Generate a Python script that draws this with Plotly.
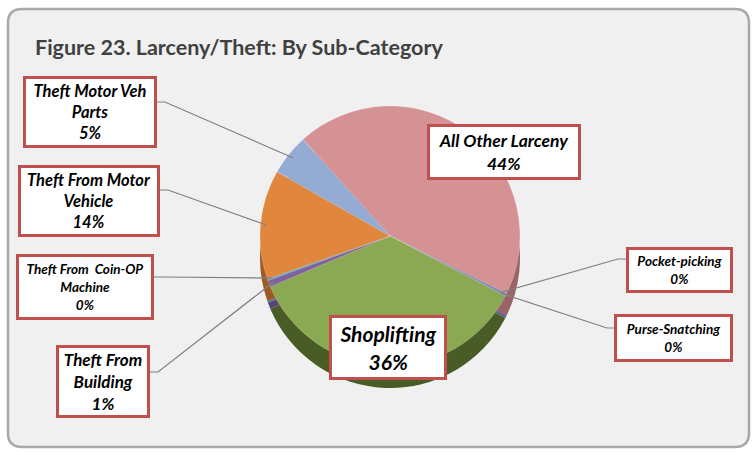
import math
import plotly.graph_objects as go

# ---- data ----
categories = ["All Other Larceny", "Pocket-picking", "Purse-Snatching", "Shoplifting",
              "Theft From Building", "Theft From Coin-OP Machine",
              "Theft From Motor Vehicle", "Theft Motor Veh Parts"]
shares = [44.0, 0.2, 0.1, 36.0, 0.8, 0.2, 13.6, 5.1]
label_text = ["All Other Larceny", "Pocket-picking", "Purse-Snatching", "Shoplifting",
              "Theft From<br>Building", "Theft From  Coin-OP<br>Machine",
              "Theft From Motor<br>Vehicle", "Theft Motor Veh<br>Parts"]
title_text = "Figure 23. Larceny/Theft: By Sub-Category"

top_colors = ["#D49294", "#4F81BD", "#8064A2", "#8BA852", "#7E62A0", "#4BACC6", "#E0863D", "#94ABD4"]
side_colors = ["#9A6466", "#3A5F8C", "#5A4575", "#4A5C26", "#5A4575", "#357C8E", "#9E5A24", "#687A9A"]

W, H = 754, 452
cx, cy, R = 390, 236, 130
depth = 22
rotation = -42

def dom(cxp, cyp):
    return dict(x=[(cxp - R) / W, (cxp + R) / W], y=[1 - (cyp + R) / H, 1 - (cyp - R) / H])

fig = go.Figure()
fig.add_trace(go.Pie(labels=categories, values=shares, sort=False, direction="clockwise",
                     rotation=rotation, domain=dom(cx, cy + depth), textinfo="none",
                     hoverinfo="skip", showlegend=False,
                     marker=dict(colors=side_colors, line=dict(width=0))))
fig.add_trace(go.Pie(labels=categories, values=shares, sort=False, direction="clockwise",
                     rotation=rotation, domain=dom(cx, cy), textinfo="none",
                     showlegend=False,
                     marker=dict(colors=top_colors, line=dict(width=0.5, color="rgba(255,255,255,0.4)"))))

# mid-angles of slices (clockwise from 12 o'clock)
total = sum(shares)
mids = []
acc = 0
for v in shares:
    mids.append(rotation + (acc + v / 2) / total * 360)
    acc += v

def px2paper(x, y):
    return x / W, 1 - y / H

def P(x, y):
    a, b = px2paper(x, y)
    return f"{a:.5f},{b:.5f}"

shapes = []
# frame
x0, y0, x1, y1, r = 8, 9, 749, 447, 14
path = (f"M {P(x0 + r, y0)} L {P(x1 - r, y0)} Q {P(x1, y0)} {P(x1, y0 + r)} "
        f"L {P(x1, y1 - r)} Q {P(x1, y1)} {P(x1 - r, y1)} L {P(x0 + r, y1)} "
        f"Q {P(x0, y1)} {P(x0, y1 - r)} L {P(x0, y0 + r)} Q {P(x0, y0)} {P(x0 + r, y0)} Z")
shapes.append(dict(type="path", xref="paper", yref="paper", path=path, layer="below",
                   fillcolor="#F0F0F0", line=dict(color="#A8A8A8", width=2.5)))

# label boxes: (center x, center y, outer w, outer h, font size, leader start, leader bend)
boxes = {
    "All Other Larceny": (504, 152, 154, 56, 17.5, None, None),
    "Pocket-picking": (679.5, 270, 107, 46, 13.5, (626, 259), (618, 259)),
    "Purse-Snatching": (673.5, 338, 119, 48, 13.5, (614, 328), (607, 328)),
    "Shoplifting": (388, 347.5, 118, 65, 21, None, None),
    "Theft From Building": (103, 381.5, 94, 73, 17, (150, 372), (158, 372)),
    "Theft From Coin-OP Machine": (85, 287, 138, 66, 13.5, (154, 277), (162, 277)),
    "Theft From Motor Vehicle": (89, 201, 142, 72, 16.5, (160, 190), (168, 190)),
    "Theft Motor Veh Parts": (90, 112, 134, 72, 16.5, (157, 102), (165, 102)),
}

annotations = []
bw = 3
for cat, lab, v, ang in zip(categories, label_text, shares, mids):
    bx, by, ow, oh, fs, st, bend = boxes[cat]
    pct = f"{round(v / total * 100):.0f}%"
    ax, ay = px2paper(bx, by)
    annotations.append(dict(
        x=ax, y=ay, xref="paper", yref="paper", showarrow=False,
        xanchor="center", yanchor="middle",
        text=f"<b><i>{lab}<br>{pct}</i></b>",
        font=dict(family="Lato, Carlito, sans-serif", size=fs, color="#000000"),
        bgcolor="#FFFFFF", bordercolor="#C0504D", borderwidth=bw, borderpad=0,
        width=ow - 2 * bw, height=oh - 2 * bw, align="center", valign="middle"))
    if st is not None:
        t = math.radians(ang)
        tx = cx + 0.96 * R * math.sin(t)
        ty = cy - 0.96 * R * math.cos(t)
        shapes.append(dict(type="path", xref="paper", yref="paper", layer="above",
                           path=f"M {P(*st)} L {P(*bend)} L {P(tx, ty)}",
                           line=dict(color="#808080", width=1.2)))

tx_, ty_ = px2paper(33, 47)
annotations.append(dict(x=tx_, y=ty_, xref="paper", yref="paper", showarrow=False,
                        xanchor="left", yanchor="middle", text=f"<b>{title_text}</b>",
                        font=dict(family="Lato, sans-serif", size=21.5, color="#404040")))

fig.update_layout(width=W, height=H, margin=dict(l=0, r=0, t=0, b=0),
                  paper_bgcolor="#FFFFFF", plot_bgcolor="#FFFFFF",
                  shapes=shapes, annotations=annotations, showlegend=False)

fig.write_html("out.html", config={"displayModeBar": False},
               post_script="document.body.style.margin='0';document.body.style.overflow='hidden';")
